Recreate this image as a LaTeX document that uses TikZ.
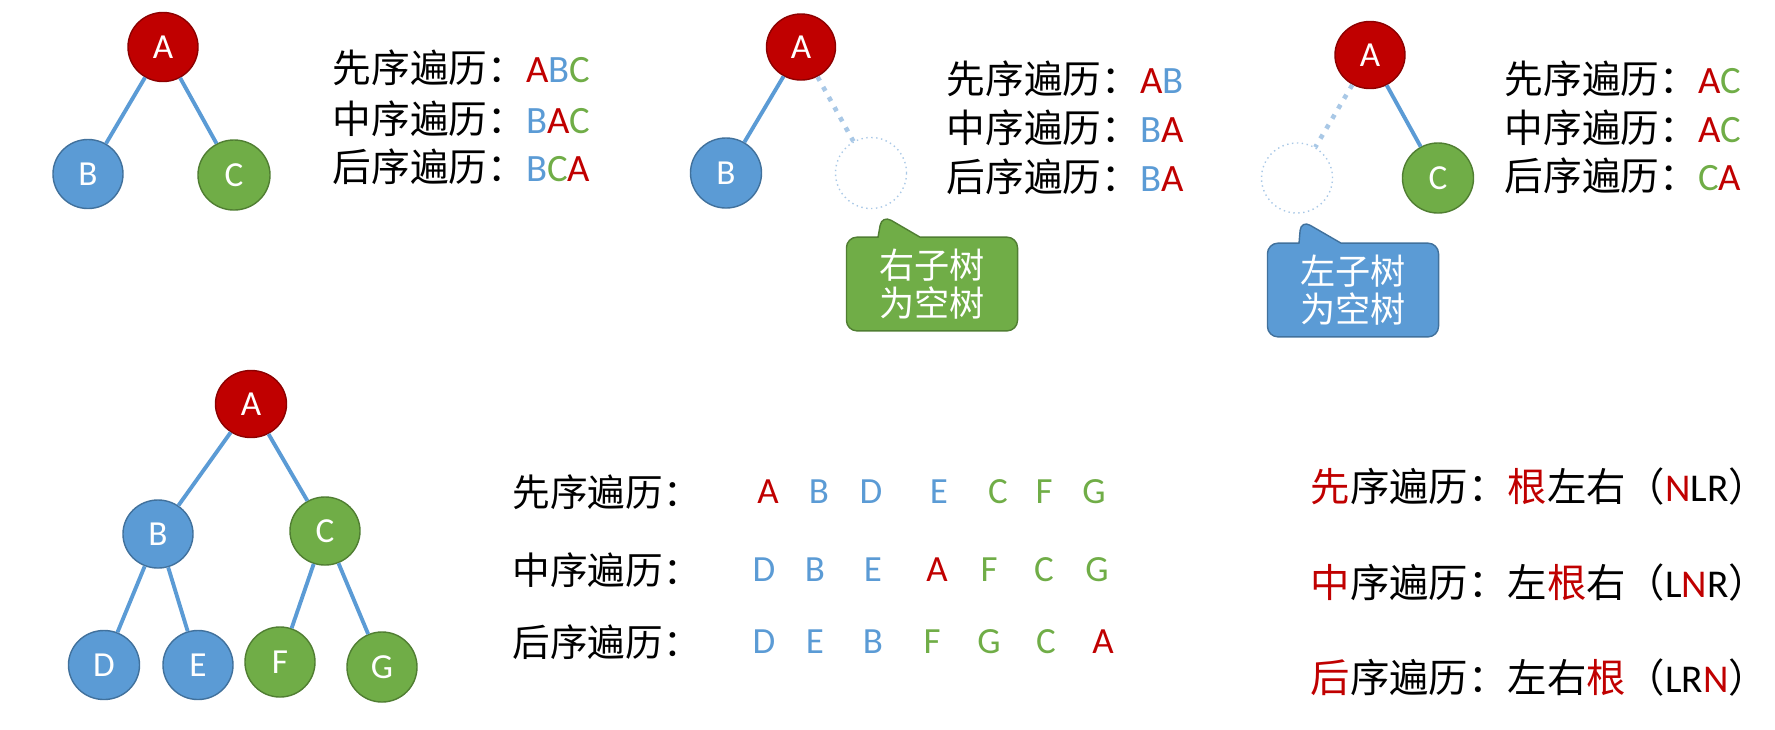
\documentclass[tikz,border=0pt]{standalone}
\usepackage{fontspec}
\setmainfont{Carlito}
\newfontfamily\cjk{Noto Sans CJK SC}
\usepackage{xcolor}
\usepackage{tikz}
\usetikzlibrary{shapes.geometric,shapes.callouts}
\definecolor{nred}{HTML}{C00000}
\definecolor{nredd}{HTML}{8C0000}
\definecolor{nblue}{HTML}{5B9BD5}
\definecolor{nblued}{HTML}{41719C}
\definecolor{ngreen}{HTML}{70AD47}
\definecolor{ngreend}{HTML}{507E32}
\definecolor{nempty}{HTML}{A9C8E6}
\newcommand{\hz}[1]{{\cjk #1}}
\newcommand{\cred}[1]{\textcolor{nred}{#1}}
\newcommand{\cblue}[1]{\textcolor{nblue}{#1}}
\newcommand{\cgreen}[1]{\textcolor{ngreen}{#1}}
\tikzset{
  tn/.style={ellipse, draw, thin, inner sep=0pt, text=white,
             font=\fontsize{10}{12}\selectfont},
  rn/.style={tn, fill=nred, draw=nredd},
  bn/.style={tn, fill=nblue, draw=nblued},
  gn/.style={tn, fill=ngreen, draw=ngreend},
  en/.style={ellipse, draw=nempty, densely dotted, thin, inner sep=0pt},
  lnk/.style={draw=nblue, line width=1.1pt},
  dlnk/.style={draw=nempty, line width=1.3pt, dotted},
  lbl/.style={anchor=west, inner sep=0pt, font=\fontsize{11}{13}\selectfont},
  mlbl/.style={anchor=west, inner sep=0pt, font=\fontsize{10.7}{13}\selectfont},
  rlbl/.style={anchor=west, inner sep=0pt, font=\fontsize{11.2}{13}\selectfont},
  ltr/.style={inner sep=0pt, font=\fontsize{10.5}{12}\selectfont},
  note/.style={rectangle callout, rounded corners=3pt, draw, thin, text=white,
               align=center, font=\cjk\fontsize{10}{10.8}\selectfont,
               minimum width=1.71cm, minimum height=0.89cm,
               callout pointer width=0.42cm}
}
\begin{document}
\begin{tikzpicture}[x=0.01cm, y=-0.01cm]
  \useasboundingbox (0,0) rectangle (1775,729);
  % tree 1
  \node[rn, minimum width=0.70cm, minimum height=0.69cm] (a1) at (163,47) {A};
  \node[bn, minimum width=0.70cm, minimum height=0.69cm] (b1) at (88,174) {B};
  \node[gn, minimum width=0.72cm, minimum height=0.70cm] (c1) at (234,175) {C};
  \node[lbl] (t11) at (332,68) {\hz{先序遍历：}\cred{A}\cblue{B}\cgreen{C}};
  \node[lbl] (t12) at (332,119) {\hz{中序遍历：}\cblue{B}\cred{A}\cgreen{C}};
  \node[lbl] (t13) at (332,167) {\hz{后序遍历：}\cblue{B}\cgreen{C}\cred{A}};
  % tree 2
  \node[rn, minimum width=0.69cm, minimum height=0.66cm] (a2) at (801,47) {A};
  \node[bn, minimum width=0.71cm, minimum height=0.70cm] (b2) at (726,173) {B};
  \node[en, minimum width=0.71cm, minimum height=0.71cm] (e2) at (871,173) {};
  \node[lbl] (t21) at (946,79) {\hz{先序遍历：}\cred{A}\cblue{B}};
  \node[lbl] (t22) at (946,128) {\hz{中序遍历：}\cblue{B}\cred{A}};
  \node[lbl] (t23) at (946,177) {\hz{后序遍历：}\cblue{B}\cred{A}};
  \coordinate (gtip) at (882,215);
  \node[note, fill=ngreen, draw=ngreend, callout absolute pointer={(gtip)}] (gnote) at (932,284) {右子树\\为空树};
  % tree 3
  \node[rn, minimum width=0.70cm, minimum height=0.67cm] (a3) at (1370,55) {A};
  \node[gn, minimum width=0.71cm, minimum height=0.70cm] (c3) at (1438,178) {C};
  \node[en, minimum width=0.71cm, minimum height=0.70cm] (e3) at (1297,178) {};
  \node[lbl] (t31) at (1504,79) {\hz{先序遍历：}\cred{A}\cgreen{C}};
  \node[lbl] (t32) at (1504,128) {\hz{中序遍历：}\cred{A}\cgreen{C}};
  \node[lbl] (t33) at (1504,176) {\hz{后序遍历：}\cgreen{C}\cred{A}};
  \coordinate (btip) at (1301,220);
  \node[note, fill=nblue, draw=nblued, callout absolute pointer={(btip)}] (bnote) at (1353,290) {左子树\\为空树};
  % tree 4
  \node[rn, minimum width=0.71cm, minimum height=0.67cm] (a4) at (251,404) {A};
  \node[bn, minimum width=0.70cm, minimum height=0.68cm] (b4) at (158,534) {B};
  \node[gn, minimum width=0.70cm, minimum height=0.68cm] (c4) at (325,531) {C};
  \node[bn, minimum width=0.71cm, minimum height=0.69cm] (d4) at (104,665) {D};
  \node[bn, minimum width=0.70cm, minimum height=0.69cm] (e4) at (198,665) {E};
  \node[gn, minimum width=0.70cm, minimum height=0.70cm] (f4) at (280,662) {F};
  \node[gn, minimum width=0.70cm, minimum height=0.70cm] (g4) at (382,667) {G};
  \foreach \a/\b in {a1/b1,a1/c1,a2/b2,a3/c3,a4/b4,a4/c4,b4/d4,b4/e4,c4/f4,c4/g4}
    \draw[lnk] (\a) -- (\b);
  \draw[dlnk] (a2) -- (e2);
  \draw[dlnk] (a3) -- (e3);
  \node[mlbl] (m1) at (512,492) {\hz{先序遍历：}};
  \node[mlbl] (m2) at (512,570) {\hz{中序遍历：}};
  \node[mlbl] (m3) at (512,642) {\hz{后序遍历：}};
  \foreach \x/\l/\c [count=\i] in {768/A/nred,819/B/nblue,871/D/nblue,939/E/nblue,998/C/ngreen,1044/F/ngreen,1094/G/ngreen}
    \node[ltr, text=\c] (p\i) at (\x,492) {\l};
  \foreach \x/\l/\c [count=\i] in {764/D/nblue,815/B/nblue,873/E/nblue,937/A/nred,989/F/ngreen,1044/C/ngreen,1097/G/ngreen}
    \node[ltr, text=\c] (q\i) at (\x,570) {\l};
  \foreach \x/\l/\c [count=\i] in {764/D/nblue,815/E/nblue,873/B/nblue,932/F/ngreen,989/G/ngreen,1046/C/ngreen,1103/A/nred}
    \node[ltr, text=\c] (s\i) at (\x,642) {\l};
  % rules
  \node[rlbl] (r1) at (1310,487) {\hz{\cred{先}序遍历：\cred{根}左右（}\cred{N}LR\hz{）}};
  \node[rlbl] (r2) at (1310,583) {\hz{\cred{中}序遍历：左\cred{根}右（}L\cred{N}R\hz{）}};
  \node[rlbl] (r3) at (1310,678) {\hz{\cred{后}序遍历：左右\cred{根}（}LR\cred{N}\hz{）}};
\end{tikzpicture}
\end{document}
